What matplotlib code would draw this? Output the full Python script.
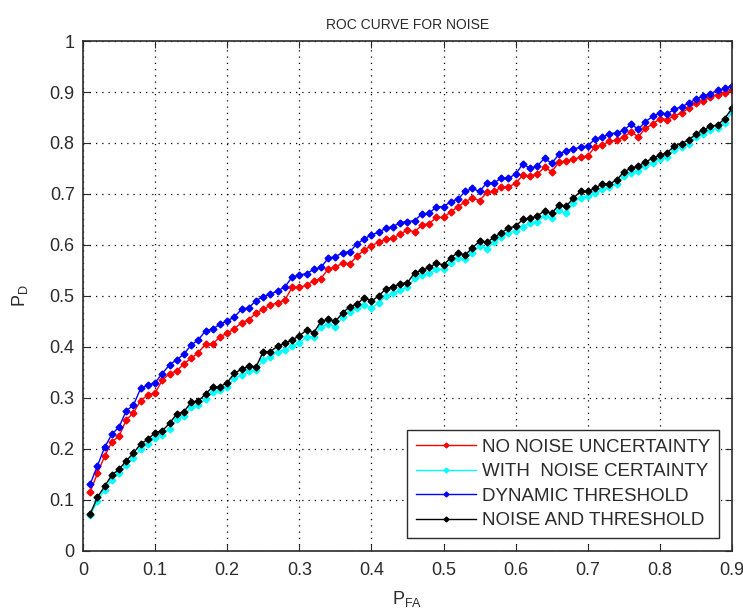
import numpy as np
import matplotlib
matplotlib.use('Agg')
import matplotlib.pyplot as plt

plt.rcParams['font.family'] = ['Liberation Sans', 'DejaVu Sans']
plt.rcParams['mathtext.fontset'] = 'custom'
plt.rcParams['mathtext.rm'] = 'Liberation Sans'

# P_FA grid, 0.01 ... 0.90
pfa = np.arange(1, 91) / 100

no_noise_unc = [0.116, 0.152, 0.186, 0.214, 0.225, 0.257, 0.271, 0.295, 0.306, 0.310,
                0.335, 0.348, 0.353, 0.367, 0.378, 0.389, 0.406, 0.406, 0.420, 0.427,
                0.436, 0.448, 0.453, 0.467, 0.474, 0.482, 0.487, 0.492, 0.517, 0.517,
                0.521, 0.530, 0.534, 0.553, 0.557, 0.564, 0.563, 0.578, 0.590, 0.599,
                0.605, 0.611, 0.613, 0.622, 0.629, 0.626, 0.639, 0.642, 0.654, 0.654,
                0.665, 0.675, 0.685, 0.692, 0.687, 0.703, 0.705, 0.713, 0.714, 0.721,
                0.737, 0.735, 0.739, 0.752, 0.744, 0.762, 0.765, 0.768, 0.772, 0.775,
                0.792, 0.796, 0.803, 0.806, 0.812, 0.822, 0.812, 0.829, 0.837, 0.848,
                0.846, 0.853, 0.859, 0.868, 0.879, 0.883, 0.890, 0.894, 0.899, 0.904]

with_noise = [0.070, 0.098, 0.120, 0.140, 0.152, 0.168, 0.183, 0.200, 0.210, 0.222,
              0.228, 0.240, 0.258, 0.265, 0.282, 0.286, 0.298, 0.312, 0.315, 0.322,
              0.339, 0.345, 0.352, 0.355, 0.375, 0.381, 0.391, 0.395, 0.402, 0.408,
              0.420, 0.420, 0.440, 0.445, 0.440, 0.459, 0.469, 0.476, 0.482, 0.476,
              0.487, 0.500, 0.505, 0.512, 0.517, 0.535, 0.541, 0.545, 0.552, 0.552,
              0.565, 0.574, 0.572, 0.585, 0.598, 0.593, 0.605, 0.615, 0.624, 0.628,
              0.636, 0.643, 0.646, 0.657, 0.652, 0.668, 0.662, 0.683, 0.693, 0.696,
              0.701, 0.709, 0.713, 0.720, 0.735, 0.741, 0.746, 0.755, 0.761, 0.768,
              0.773, 0.786, 0.792, 0.799, 0.811, 0.818, 0.825, 0.829, 0.840, 0.861]

dynamic_thr = [0.131, 0.167, 0.203, 0.229, 0.243, 0.275, 0.286, 0.319, 0.325, 0.330,
               0.348, 0.365, 0.375, 0.386, 0.404, 0.414, 0.432, 0.435, 0.445, 0.451,
               0.459, 0.474, 0.477, 0.491, 0.499, 0.504, 0.510, 0.518, 0.537, 0.541,
               0.544, 0.552, 0.556, 0.574, 0.577, 0.585, 0.587, 0.602, 0.612, 0.620,
               0.625, 0.633, 0.636, 0.644, 0.646, 0.648, 0.661, 0.662, 0.675, 0.675,
               0.685, 0.690, 0.705, 0.711, 0.705, 0.722, 0.722, 0.731, 0.731, 0.739,
               0.759, 0.750, 0.755, 0.770, 0.760, 0.778, 0.785, 0.788, 0.792, 0.794,
               0.808, 0.811, 0.818, 0.820, 0.825, 0.837, 0.827, 0.842, 0.852, 0.859,
               0.857, 0.866, 0.871, 0.878, 0.886, 0.892, 0.897, 0.903, 0.907, 0.912]

noise_and_thr = [0.073, 0.105, 0.127, 0.149, 0.160, 0.177, 0.192, 0.210, 0.219, 0.232,
                 0.236, 0.250, 0.269, 0.273, 0.292, 0.294, 0.308, 0.322, 0.322, 0.330,
                 0.349, 0.356, 0.363, 0.361, 0.391, 0.391, 0.402, 0.407, 0.414, 0.422,
                 0.433, 0.428, 0.450, 0.454, 0.450, 0.467, 0.479, 0.484, 0.497, 0.490,
                 0.500, 0.514, 0.518, 0.524, 0.526, 0.546, 0.550, 0.556, 0.564, 0.561,
                 0.575, 0.585, 0.580, 0.595, 0.607, 0.605, 0.615, 0.624, 0.633, 0.637,
                 0.650, 0.652, 0.657, 0.667, 0.662, 0.679, 0.676, 0.692, 0.705, 0.705,
                 0.711, 0.720, 0.720, 0.727, 0.744, 0.750, 0.755, 0.763, 0.770, 0.776,
                 0.781, 0.794, 0.799, 0.806, 0.818, 0.825, 0.833, 0.835, 0.848, 0.868]

labels = ['NO NOISE UNCERTAINTY', 'WITH  NOISE CERTAINTY',
          'DYNAMIC THRESHOLD', 'NOISE AND THRESHOLD']
colors = ['#ff0000', '#00ffff', '#0000ff', '#000000']
dark = '#2b2b2b'

fig = plt.figure(figsize=(7.43, 6.12), dpi=100)
ax = fig.add_axes([0.1117, 0.0997, 0.8735, 0.8333])

for ys, lab, col in zip([no_noise_unc, with_noise, dynamic_thr, noise_and_thr], labels, colors):
    ax.plot(pfa, ys, color=col, marker='D', markersize=3.5, linewidth=1, label=lab)

ax.set_xlim(0, 0.9)
ax.set_ylim(0, 1)
xt = np.arange(0, 10) / 10
yt = np.arange(0, 11) / 10
ax.set_xticks(xt)
ax.set_yticks(yt)
ax.set_xticklabels(['0'] + ['%.1f' % v for v in xt[1:]])
ax.set_yticklabels(['0'] + ['%.1f' % v for v in yt[1:-1]] + ['1'])
ax.tick_params(direction='in', top=True, right=True, labelsize=13, length=5,
               pad=6, colors=dark)
ax.tick_params(axis='x', pad=8)
ax.grid(True, color='black', linestyle=(0, (1, 4)), linewidth=0.9)
for s in ax.spines.values():
    s.set_linewidth(1.2)
    s.set_color(dark)

ax.set_title('ROC CURVE FOR NOISE', fontsize=10, pad=9, color=dark)
ax.set_xlabel('P$_{\\mathrm{FA}}$', fontsize=13, labelpad=7, color=dark)
ax.set_ylabel('P$_{\\mathrm{D}}$', fontsize=13, labelpad=14, color=dark)

leg = ax.legend(loc='lower right', fontsize=13.5, fancybox=False, framealpha=1,
                edgecolor=dark, handlelength=3.2, borderaxespad=0.7,
                labelspacing=0.4, handletextpad=0.35, markerscale=0.7,
                borderpad=0.45)
leg.get_frame().set_linewidth(1)
for t in leg.get_texts():
    t.set_color(dark)

fig.savefig('out.png', dpi=100)
